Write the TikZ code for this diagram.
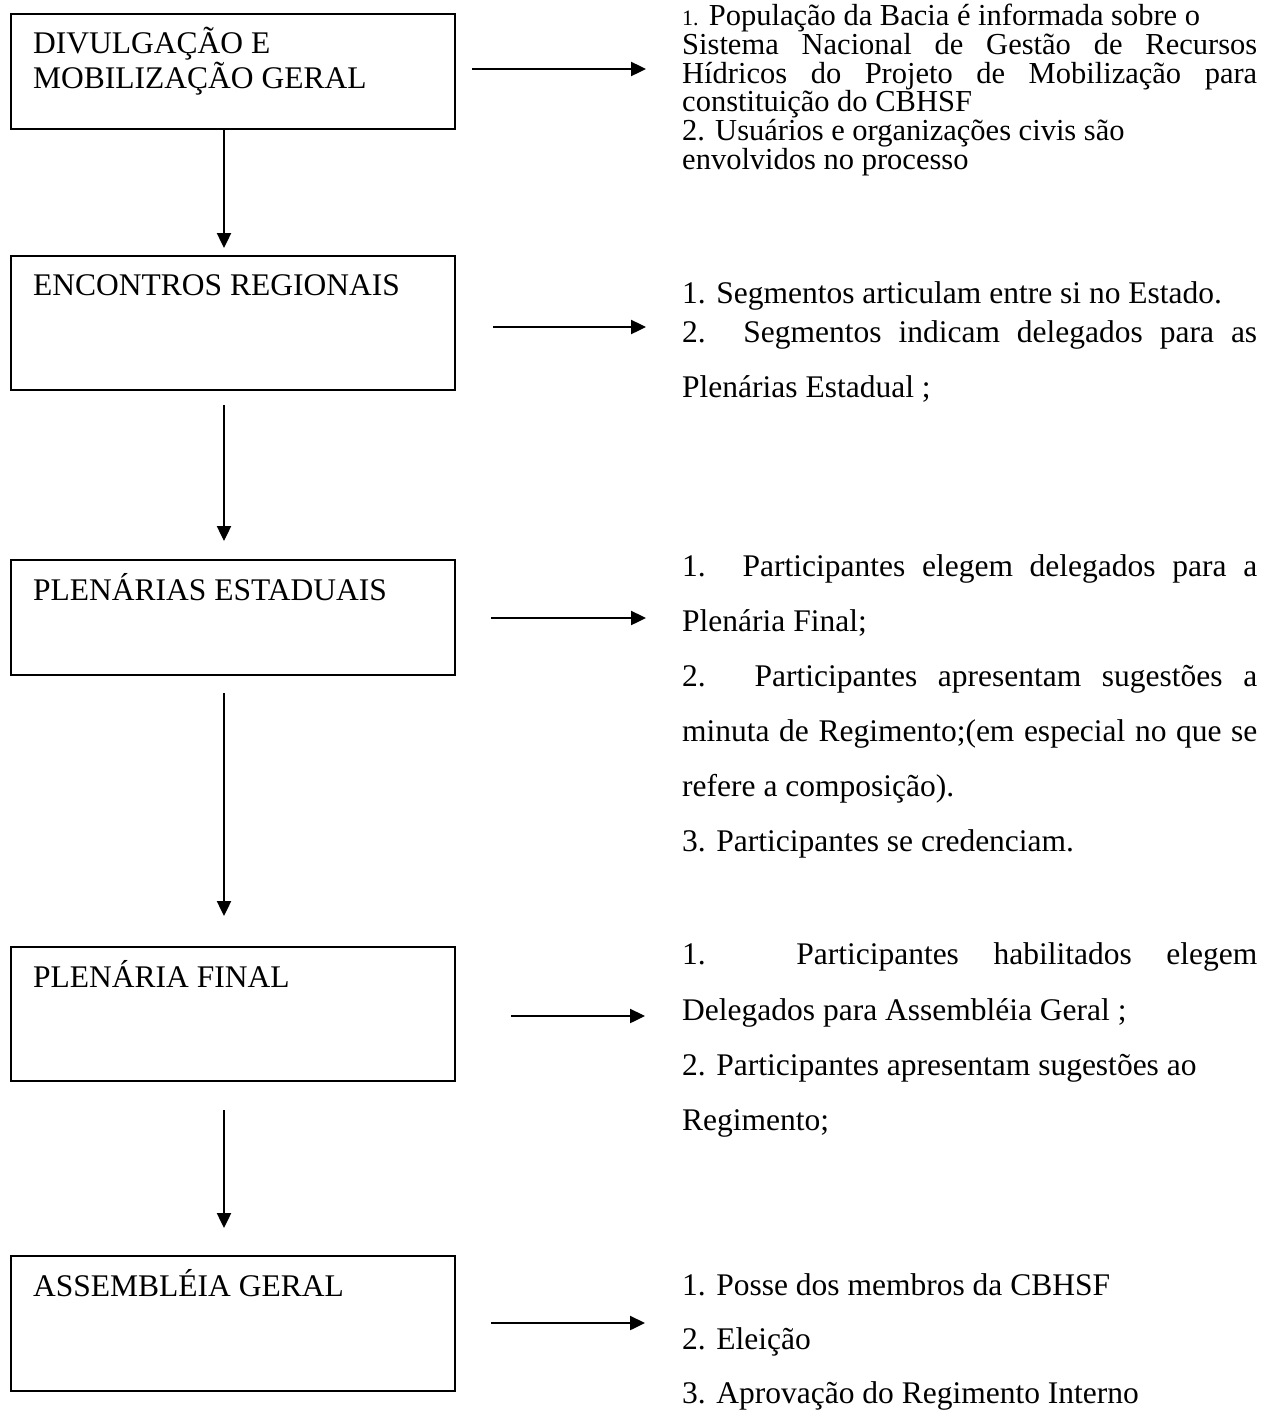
\documentclass[tikz,border=0pt]{standalone}
\usepackage{fontspec}
\setmainfont{Liberation Serif}
\usetikzlibrary{arrows.meta}
\newcommand{\jl}[1]{\makebox[575pt][s]{#1}}
\begin{document}
\begin{tikzpicture}[x=1pt,y=-1pt,
  stagebox/.style={draw=black,line width=1.8pt,anchor=north west,inner sep=0pt},
  stagelabel/.style={anchor=base west,inner sep=0pt,font=\fontsize{31.5}{35}\selectfont},
  txt/.style={anchor=base west,inner sep=0pt,font=\fontsize{31.5}{35}\selectfont},
  txtsmall/.style={anchor=base west,inner sep=0pt,font=\fontsize{30.5}{33}\selectfont},
  flow/.style={line width=2.4pt,-{Triangle[length=15pt,width=14pt]}}]
\useasboundingbox (0,0) rectangle (1262,1411);
% boxes
\node[stagebox,minimum width=444pt,minimum height=115pt] (b1) at (10,13) {};
\node[stagebox,minimum width=444pt,minimum height=134pt] (b2) at (10,255) {};
\node[stagebox,minimum width=444pt,minimum height=115pt] (b3) at (10,559) {};
\node[stagebox,minimum width=444pt,minimum height=134pt] (b4) at (10,946) {};
\node[stagebox,minimum width=444pt,minimum height=135pt] (b5) at (10,1255) {};
% box labels
\node[stagelabel] (l1a) at (33,53) {DIVULGAÇÃO E};
\node[stagelabel] (l1b) at (33,88) {MOBILIZAÇÃO GERAL};
\node[stagelabel] (l2) at (33,295) {ENCONTROS REGIONAIS};
\node[stagelabel] (l3) at (33,600) {PLENÁRIAS ESTADUAIS};
\node[stagelabel] (l4) at (33,987) {PLENÁRIA FINAL};
\node[stagelabel] (l5) at (33,1296) {ASSEMBLÉIA GERAL};
% right texts block 1
\node[txtsmall] (t1a) at (682,25) {{\fontsize{22}{24}\selectfont 1.} População da Bacia é informada sobre o};
\node[txtsmall] (t1b) at (682,54) {\jl{Sistema Nacional de Gestão de Recursos}};
\node[txtsmall] (t1c) at (682,83) {\jl{Hídricos do Projeto de Mobilização para}};
\node[txtsmall] (t1d) at (682,111) {constituição do CBHSF};
\node[txtsmall] (t1e) at (682,140) {2. Usuários e organizações civis são};
\node[txtsmall] (t1f) at (682,169) {envolvidos no processo};
% block 2
\node[txt] (t2a) at (682,303) {1. Segmentos articulam entre si no Estado.};
\node[txt] (t2b) at (682,342) {\jl{2. Segmentos indicam delegados para as}};
\node[txt] (t2c) at (682,397) {Plenárias Estadual ;};
% block 3
\node[txt] (t3a) at (682,576) {\jl{1. Participantes elegem delegados para a}};
\node[txt] (t3b) at (682,631) {Plenária Final;};
\node[txt] (t3c) at (682,686) {\jl{2. Participantes apresentam sugestões a}};
\node[txt] (t3d) at (682,741) {\jl{minuta de Regimento;(em especial no que se}};
\node[txt] (t3e) at (682,796) {refere a composição).};
\node[txt] (t3f) at (682,851) {3. Participantes se credenciam.};
% block 4
\node[txt] (t4a) at (682,964) {\jl{1. Participantes habilitados elegem}};
\node[txt] (t4b) at (682,1020) {Delegados para Assembléia Geral ;};
\node[txt] (t4c) at (682,1075) {2. Participantes apresentam sugestões ao};
\node[txt] (t4d) at (682,1130) {Regimento;};
% block 5
\node[txt] (t5a) at (682,1295) {1. Posse dos membros da CBHSF};
\node[txt] (t5b) at (682,1349) {2. Eleição};
\node[txt] (t5c) at (682,1403) {3. Aprovação do Regimento Interno};
% arrow end points
\coordinate (v1e) at (224,248);
\coordinate (v2s) at (224,405);
\coordinate (v2e) at (224,541);
\coordinate (v3s) at (224,693);
\coordinate (v3e) at (224,916);
\coordinate (v4s) at (224,1110);
\coordinate (v4e) at (224,1228);
\coordinate (h1s) at (472,69);  \coordinate (h1e) at (646,69);
\coordinate (h2s) at (493,327); \coordinate (h2e) at (646,327);
\coordinate (h3s) at (491,618); \coordinate (h3e) at (646,618);
\coordinate (h4s) at (511,1016);\coordinate (h4e) at (645,1016);
\coordinate (h5s) at (491,1323);\coordinate (h5e) at (645,1323);
% connectors
\draw[flow] (b1.south -| v1e) -- (v1e);
\draw[flow] (v2s) -- (v2e);
\draw[flow] (v3s) -- (v3e);
\draw[flow] (v4s) -- (v4e);
\draw[flow] (h1s) -- (h1e);
\draw[flow] (h2s) -- (h2e);
\draw[flow] (h3s) -- (h3e);
\draw[flow] (h4s) -- (h4e);
\draw[flow] (h5s) -- (h5e);
\end{tikzpicture}
\end{document}
